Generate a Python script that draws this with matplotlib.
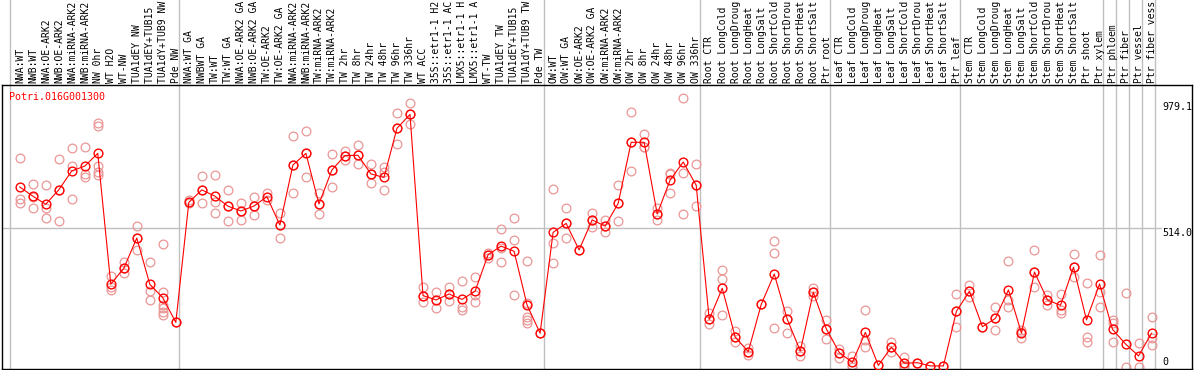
import matplotlib
matplotlib.use("Agg")
import matplotlib.pyplot as plt
from matplotlib.transforms import blended_transform_factory

# ---------------- data ----------------
gene_name = "Potri.016G001300"

sample_labels = [
    "NWA:WT", "NWB:WT", "NWA:OE-ARK2", "NWB:OE-ARK2", "NWA:miRNA-ARK2", "NWB:miRNA-ARK2",
    "NW 0hr", "WT H2O", "WT-NW", "TUA1dEY NW", "TUA1dEY+TUB15 NW", "TUA1dY+TUB9 NW", "Pde NW",
    "NWA:WT GA", "NWBWT GA", "TW:WT", "TW:WT GA", "NWA:OE-ARK2 GA", "NWB:OE-ARK2 GA",
    "TW:OE-ARK2", "TW:OE-ARK2 GA", "NWA:miRNA-ARK2", "NWB:miRNA-ARK2", "TW:miRNA-ARK2",
    "TW:miRNA-ARK2", "TW 2hr", "TW 8hr", "TW 24hr", "TW 48hr", "TW 96hr", "TW 336hr",
    "WT ACC", "35S::etr1-1 H2O", "35S::etr1-1 ACC", "LMX5::etr1-1 H2O", "LMX5::etr1-1 ACC",
    "WT-TW", "TUA1dEY TW", "TUA1dEY+TUB15 TW", "TUA1dY+TUB9 TW", "Pde TW",
    "OW:WT", "OW:WT GA", "OW:OE-ARK2", "OW:OE-ARK2 GA", "OW:miRNA-ARK2", "OW:miRNA-ARK2",
    "OW 2hr", "OW 8hr", "OW 24hr", "OW 48hr", "OW 96hr", "OW 336hr",
    "Root CTR", "Root LongCold", "Root LongDrought", "Root LongHeat", "Root LongSalt",
    "Root ShortCold", "Root ShortDrought", "Root ShortHeat", "Root ShortSalt", "Ptr root",
    "Leaf CTR", "Leaf LongCold", "Leaf LongDrought", "Leaf LongHeat", "Leaf LongSalt",
    "Leaf ShortCold", "Leaf ShortDrought", "Leaf ShortHeat", "Leaf ShortSalt", "Ptr leaf",
    "Stem CTR", "Stem LongCold", "Stem LongDrought", "Stem LongHeat", "Stem LongSalt",
    "Stem ShortCold", "Stem ShortDrought", "Stem ShortHeat", "Stem ShortSalt", "Ptr shoot",
    "Ptr xylem", "Ptr phloem", "Ptr fiber", "Ptr vessel", "Ptr fiber vessel",
]

mean_values = [
    666, 632, 602, 655, 725, 743, 790, 306, 365, 477, 306, 256, 165,
    609, 655, 632, 595, 577, 595, 630, 525, 747, 790, 603, 729, 782, 783, 714, 701,
    883, 934, 264, 248, 270, 250, 280, 415, 447, 428, 229, 125,
    498, 531, 433, 544, 521, 605, 831, 831, 566, 692, 758, 672,
    176, 291, 110, 57, 232, 344, 176, 59, 276, 141,
    53, 17, 128, 6, 73, 14, 16, 4, 4, 206,
    280, 149, 180, 285, 125, 351, 248, 228, 369, 174, 307,
    139, 85, 41, 125,
]

replicate_values = [
    [772, 621, 605], [675, 627, 588], [672, 587, 550], [769, 656, 540], [809, 743, 621],
    [815, 714, 701], [902, 891, 743, 721, 710], [337, 297, 285], [389, 365, 346],
    [521, 477, 433], [389, 282, 248], [455, 279, 229, 217, 205, 192], [165],
    [618, 605], [706, 655, 605], [709, 611, 568], [655, 595, 540], [605, 577, 544],
    [627, 595, 561], [642, 618], [568, 525, 476], [854, 747, 642], [874, 790, 701],
    [642, 603, 566], [788, 729, 665], [800, 782, 766], [821, 783, 751], [751, 714, 679],
    [738, 722, 655], [938, 883, 823], [975, 934, 899], [297, 264, 242], [277, 248, 217],
    [297, 270, 245], [318, 223, 211], [332, 266, 242], [420, 415, 402], [509, 439, 389],
    [550, 470, 266], [393, 236, 186, 174, 162], [125],
    [658, 457, 383], [588, 531, 476], [433], [568, 544, 519], [544, 521, 500],
    [672, 605, 540], [942, 831, 725], [861, 815, 815], [587, 566, 544], [719, 714, 642],
    [994, 716, 565], [750, 672, 595],
    [201, 176, 158], [359, 324, 191], [134, 110, 91], [69, 57, 44], [232],
    [466, 420, 143], [207, 176, 125], [78, 59, 42], [293, 276, 264], [174, 141, 102],
    [65, 53, 32], [42, 8, 1], [211, 100, 73], [6], [94, 73, 57], [38, 4, 0], [16], [4], [4],
    [270, 206, 149],
    [303, 280, 260], [149], [221, 180, 137], [391, 248, 221], [137, 130, 106],
    [433, 351, 297], [266, 248, 229], [270, 211, 201], [418, 369, 334], [310, 112, 94],
    [414, 279, 221],
    [174, 162, 91], [273, 1], [88, 0], [184, 106, 81],
]

group_starts = [0, 13, 41, 53, 63, 73, 84, 85, 86, 87, 88]
axis_marks = [979.1, 514.0, 0]
visible_chars = 14  # the header band only shows this many characters

# ---------------- figure ----------------
W, H = 1194, 370
fig = plt.figure(figsize=(W / 100, H / 100), dpi=100)
ax = fig.add_axes([2 / W, 1 / H, 1190 / W, 284 / H])

step = 13.01
x_min = -(19.7 - 2) / step
x_max = x_min + 1190 / step
ax.set_xlim(x_min, x_max)
y_lo, y_hi = -7.4, 1042.9
ax.set_ylim(y_lo, y_hi)

for s in ax.spines.values():
    s.set_color("black")
    s.set_linewidth(1.0)
ax.set_xticks([])
ax.set_yticks([])

mono = "DejaVu Sans Mono"
fs = 7.0
grid_c = "#c0c0c0"

trans = blended_transform_factory(ax.transData, ax.transAxes)
top_ext = 1 + 86 / 284
for g in group_starts:
    xs = g - 0.72
    ax.plot([xs, xs], [0, top_ext], color=grid_c, lw=1.0, transform=trans,
            clip_on=False, zorder=1)

# horizontal grid at middle mark
x_line_end = x_min + (1161 - 2) / step
ax.plot([x_min, x_line_end], [514.0, 514.0], color=grid_c, lw=1.0, zorder=1, clip_on=False)

# replicates
rx, ry = [], []
for i, reps in enumerate(replicate_values):
    for v in reps:
        rx.append(i)
        ry.append(v)
ax.plot(rx, ry, linestyle="none", marker="o", markersize=6.3, markerfacecolor="none",
        markeredgecolor="#eb9696", markeredgewidth=0.9, zorder=2)

# means
idx = list(range(len(mean_values)))
ax.plot(idx, mean_values, color="#ff0000", lw=0.8, marker="o", markersize=6.3,
        markerfacecolor="none", markeredgecolor="#ff0000", markeredgewidth=1.0, zorder=3)

# sample labels on top (header band shows only the first characters)
for i, lab in enumerate(sample_labels):
    ax.text(i + 0.02, 1 + 2 / 284, lab[:visible_chars], transform=trans, rotation=90,
            ha="center", va="bottom", family=mono, fontsize=fs, color="black",
            clip_on=False)

# gene name
ax.text(x_min + (9.5 - 2) / step, 1 - 7 / 284, gene_name, transform=trans, ha="left",
        va="top", family=mono, fontsize=7.2, color="#ff0000")

# right value marks
x_lab = x_min + (1162 - 2) / step
ax.text(x_lab, axis_marks[0], "979.1", ha="left", va="top", family=mono, fontsize=7.2,
        color="black", clip_on=False)
ax.text(x_lab, axis_marks[1], "514.0", ha="left", va="top", family=mono, fontsize=7.2,
        color="black", clip_on=False)
ax.text(x_lab, axis_marks[2], "0", ha="left", va="bottom", family=mono, fontsize=7.2,
        color="black", clip_on=False)

fig.savefig("out.png", dpi=100)
